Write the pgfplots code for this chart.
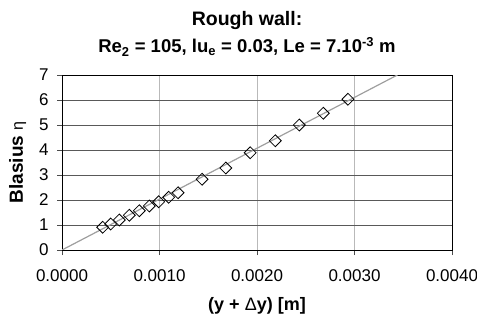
\documentclass[border=0pt]{standalone}
\usepackage{fontspec}
\setmainfont{Liberation Sans}
\usepackage{pgfplots}
\pgfplotsset{compat=1.18}
\begin{document}
\begin{tikzpicture}
\begin{axis}[
  at={(62bp,70bp)}, anchor=south west,
  scale only axis, width=390bp, height=175bp,
  xmin=0, xmax=0.004, ymin=0, ymax=7,
  xtick={0,0.001,0.002,0.003,0.004},
  xticklabels={0.0000,0.0010,0.0020,0.0030,0.0040},
  ytick={0,1,2,3,4,5,6,7},
  scaled x ticks=false,
  /pgf/number format/assume math mode=true,
  tick label style={font=\fontsize{17bp}{19bp}\selectfont},
  xticklabel style={yshift=-11bp},
  yticklabel style={xshift=-5bp},
  tick align=outside, major tick length=5bp,
  tick style={black!70, line width=0.8bp},
  xtick pos=bottom, ytick pos=left,
  axis line style={black, line width=0.9bp},
  grid=major,
  x grid style={gray!55, line width=0.9bp},
  y grid style={black!65, line width=0.8bp},
  xlabel={\textbf{(y + }Δ\textbf{y) [m]}},
  ylabel={\textbf{Blasius} {\fontsize{16bp}{18bp}\selectfont η}},
  xlabel style={font=\fontsize{18bp}{20bp}\selectfont, at={(axis description cs:0.5,-0.343)}, anchor=base},
  ylabel style={font=\fontsize{19bp}{21bp}\selectfont, at={(axis description cs:-0.1,0.5)}, anchor=base},
  clip=true,
]
\addplot[gray!75, line width=1.2bp, no marks] coordinates {(0,0) (0.00344,7)};
\addplot[only marks, mark=square, mark size=4.2bp, mark options={rotate=45, black, line width=0.8bp}] coordinates {
(0.000417,0.91) (0.000499,1.04) (0.000588,1.20) (0.000690,1.39) (0.000793,1.57)
(0.000895,1.76) (0.000992,1.93) (0.001094,2.11) (0.001190,2.29) (0.001436,2.83)
(0.001680,3.28) (0.001930,3.89) (0.002188,4.37) (0.002434,5.00) (0.002680,5.47)
(0.002933,6.03)};
\end{axis}
\node[anchor=base, font=\bfseries\fontsize{19.5bp}{21bp}\selectfont] at (247bp,294bp) {Rough wall:};
\node[anchor=base, font=\bfseries\fontsize{18.5bp}{21bp}\selectfont] at (247bp,267bp) {Re\textsubscript{2} = 105, lu\textsubscript{e} = 0.03, Le = 7.10\textsuperscript{-3} m};
\pgfresetboundingbox
\path[use as bounding box] (0,0) rectangle (477bp,320bp);
\end{tikzpicture}
\end{document}
